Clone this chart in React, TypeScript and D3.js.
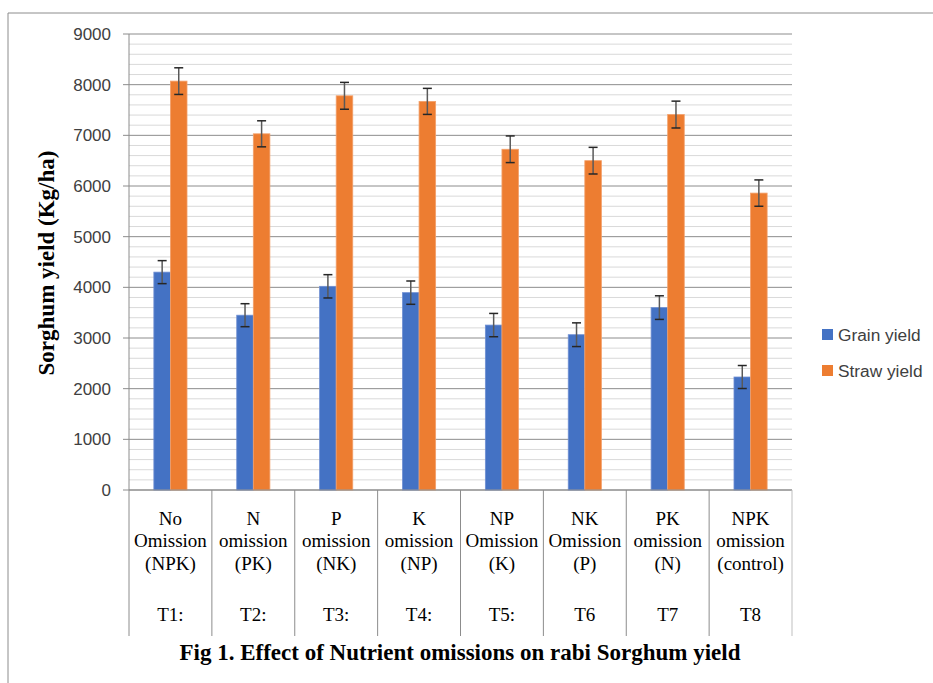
import React from "react";
import * as d3 from "d3";

const categories = [
  ["No", "Omission", "(NPK)"],
  ["N", "omission", "(PK)"],
  ["P", "omission", "(NK)"],
  ["K", "omission", "(NP)"],
  ["NP", "Omission", "(K)"],
  ["NK", "Omission", "(P)"],
  ["PK", "omission", "(N)"],
  ["NPK", "omission", "(control)"],
];
const treatments = ["T1:", "T2:", "T3:", "T4:", "T5:", "T6", "T7", "T8"];
const seriesNames = ["Grain yield", "Straw yield"];
const grainYield = [4300, 3450, 4020, 3895, 3255, 3065, 3600, 2230];
const grainErr = [227, 227, 230, 230, 230, 234, 233, 227];
const strawYield = [8070, 7030, 7780, 7670, 6725, 6500, 7410, 5860];
const strawErr = [263, 257, 265, 257, 263, 263, 265, 260];
const yTicks = [0, 1000, 2000, 3000, 4000, 5000, 6000, 7000, 8000, 9000];
const colors = ["#4472C4", "#ED7D31"];

const W = 933;
const H = 683;
const left = 129;
const right = 792;
const top = 34;
const bottom = 490;
const catBottom = 636;

export default function App() {
  const x = d3.scaleBand<number>().domain(d3.range(categories.length)).range([left, right]).paddingInner(0).paddingOuter(0);
  const bw = x.bandwidth();
  const xs = d3.scaleBand<number>().domain([0, 1]).range([bw * 0.3, bw * 0.7]).padding(0);
  const y = d3.scaleLinear().domain([0, 9000]).range([bottom, top]);
  const minor = d3.range(0, 9001, 200);
  const series = [
    { vals: grainYield, err: grainErr },
    { vals: strawYield, err: strawErr },
  ];
  const sans = "'Liberation Sans', Arial, sans-serif";
  const serif = "'Liberation Serif', 'Times New Roman', serif";

  return (
    <svg width={W} height={H} style={{ position: "absolute", left: 0, top: 0, background: "#fff" }}>
      <rect x={0} y={0} width={W} height={H} fill="#fff" />
      {/* outer frame */}
      <line x1={8} y1={13} x2={W} y2={13} stroke="#8c8c8c" strokeWidth={1} />
      <line x1={8} y1={13} x2={8} y2={H} stroke="#8c8c8c" strokeWidth={1} />

      {/* gridlines */}
      {minor.map((v) => (
        <line
          key={"g" + v}
          x1={left}
          x2={right}
          y1={y(v)}
          y2={y(v)}
          stroke={v % 1000 === 0 ? "#8c8c8c" : "#d9d9d9"}
          strokeWidth={1}
        />
      ))}
      {/* y ticks and labels */}
      {yTicks.map((v) => (
        <g key={"t" + v}>
          <line x1={left - 6} x2={left} y1={y(v)} y2={y(v)} stroke="#8c8c8c" />
          <text x={111} y={y(v)} dy="0.35em" textAnchor="end" fontFamily={sans} fontSize={17} fill="#404040">
            {v}
          </text>
        </g>
      ))}

      {/* bars */}
      {series.map((s, si) =>
        s.vals.map((v, i) => {
          const bx = (x(i) as number) + (xs(si) as number);
          const w = xs.bandwidth();
          return (
            <rect
              key={"b" + si + "-" + i}
              x={bx}
              y={y(v)}
              width={w}
              height={y(0) - y(v)}
              fill={colors[si]}
              stroke={si === 0 ? "#6f8fd3" : "#f3a06b"}
              strokeWidth={0.8}
            />
          );
        })
      )}
      {/* error bars */}
      {series.map((s, si) =>
        s.vals.map((v, i) => {
          const cx = (x(i) as number) + (xs(si) as number) + xs.bandwidth() / 2;
          const e = s.err[i];
          return (
            <g key={"e" + si + "-" + i}>
              <line x1={cx} x2={cx} y1={y(v + e)} y2={y(v - e)} stroke="#595959" strokeWidth={1.5} />
              <line x1={cx - 4.5} x2={cx + 4.5} y1={y(v + e)} y2={y(v + e)} stroke="#262626" strokeWidth={1.5} />
              <line x1={cx - 4.5} x2={cx + 4.5} y1={y(v - e)} y2={y(v - e)} stroke="#262626" strokeWidth={1.5} />
            </g>
          );
        })
      )}

      {/* axes */}
      <line x1={left} x2={right} y1={bottom} y2={bottom} stroke="#8c8c8c" />
      <line x1={left} x2={left} y1={top} y2={catBottom} stroke="#8c8c8c" />
      {categories.map((_, i) => (
        <line
          key={"cl" + i}
          x1={(x(i) as number) + bw}
          x2={(x(i) as number) + bw}
          y1={bottom}
          y2={catBottom}
          stroke={i === categories.length - 1 ? "#bfbfbf" : "#8c8c8c"}
        />
      ))}

      {/* category labels */}
      {categories.map((lines, i) => {
        const cx = (x(i) as number) + bw / 2;
        return (
          <g key={"c" + i}>
            {lines.map((ln, li) => (
              <text
                key={li}
                x={cx}
                y={518 + li * 22.5}
                dy="0.35em"
                textAnchor="middle"
                fontFamily={serif}
                fontSize={19}
                fill="#000"
              >
                {ln}
              </text>
            ))}
            <text x={cx} y={614} dy="0.35em" textAnchor="middle" fontFamily={serif} fontSize={19} fill="#000">
              {treatments[i]}
            </text>
          </g>
        );
      })}

      {/* y axis title */}
      <text
        transform={`translate(54,263) rotate(-90)`}
        textAnchor="middle"
        fontFamily={serif}
        fontWeight="bold"
        fontSize={23}
        fill="#000"
      >
        Sorghum yield (Kg/ha)
      </text>

      {/* legend */}
      {seriesNames.map((n, i) => (
        <g key={"l" + i}>
          <rect x={822} y={329 + i * 36} width={11} height={11} fill={colors[i]} />
          <text x={838} y={334.5 + i * 36} dy="0.35em" fontFamily={sans} fontSize={17.3} fill="#404040">
            {n}
          </text>
        </g>
      ))}

      {/* title */}
      <text x={460} y={660} textAnchor="middle" fontFamily={serif} fontWeight="bold" fontSize={23} fill="#000">
        Fig 1. Effect of Nutrient omissions on rabi Sorghum yield
      </text>
    </svg>
  );
}
